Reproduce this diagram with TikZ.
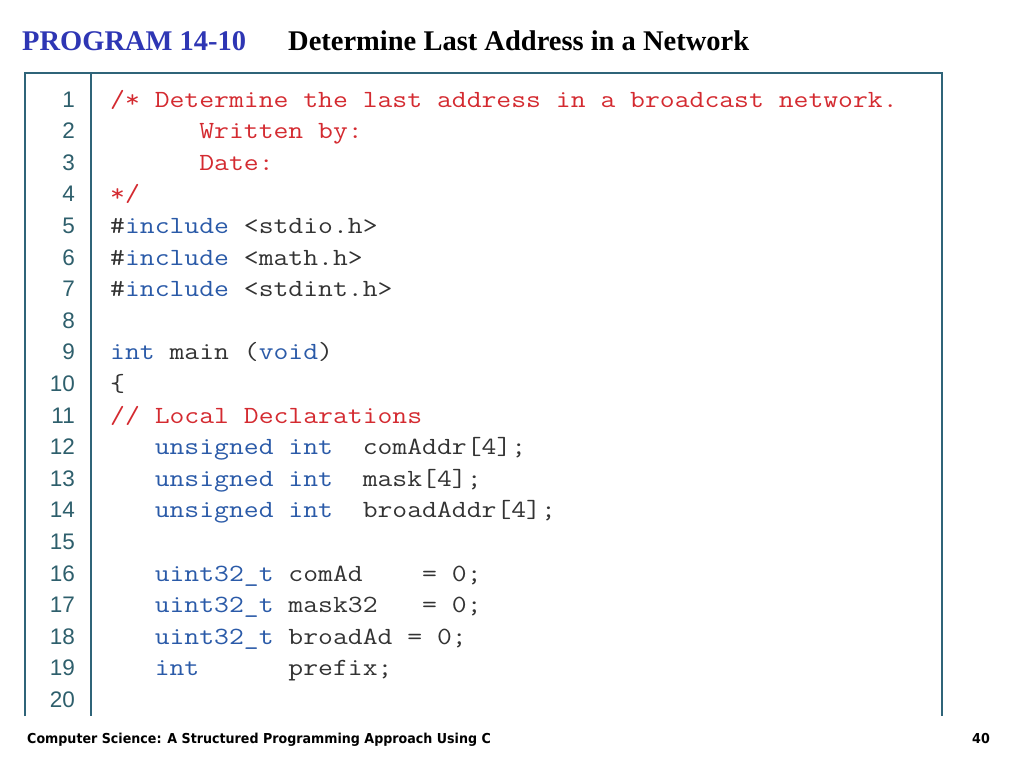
\documentclass[tikz,border=0pt]{standalone}
\usepackage{fontspec}
\setmainfont{Liberation Serif}
\newfontfamily\codefont[FakeStretch=1.168]{Latin Modern Mono}
\newfontfamily\numfont{Liberation Sans}
\newfontfamily\footfont[FakeStretch=0.925]{DejaVu Sans}
\definecolor{framec}{HTML}{2F6479}
\definecolor{numc}{HTML}{2E5F6C}
\definecolor{cmtc}{HTML}{D42A30}
\definecolor{kwc}{HTML}{2A5AA8}
\definecolor{txtc}{HTML}{333333}
\definecolor{titlec}{HTML}{2E36B4}
\tikzset{
  code/.style={anchor=base west,inner sep=0pt,font=\codefont\fontsize{24.7}{26}\selectfont,text=txtc},
  num/.style={anchor=base east,inner sep=0pt,font=\numfont\fontsize{22.5}{24}\selectfont,text=numc},
  frame/.style={draw=framec,line width=1.5pt},
  title/.style={anchor=base west,inner sep=0pt,font=\fontsize{28.5}{30}\selectfont\bfseries},
  foot/.style={anchor=base west,inner sep=0pt,font=\footfont\fontsize{13.7}{15}\selectfont\bfseries}
}
\newcommand\cm[1]{\textcolor{cmtc}{#1}}
\newcommand\kw[1]{\textcolor{kwc}{#1}}
\newcommand\cl[2]{\node[num] (n#1) at (75,{107+(#1-1)*31.6}) {#1};
  \node[code] (c#1) at (110,{107+(#1-1)*31.6}) {#2};}
\begin{document}
\begin{tikzpicture}[x=1pt,y=-1pt]
\useasboundingbox[fill=white] (0,0) rectangle (1024,768);
\node[title,text=titlec] (t1) at (22,50) {PROGRAM 14-10};
\node[title] (t2) at (288,50) {Determine Last Address in a Network};
\coordinate (tl) at (25,73);
\coordinate (tr) at (942,73);
\coordinate (bl) at (25,716);
\coordinate (br) at (942,716);
\coordinate (st) at (91,73);
\coordinate (sb) at (91,716);
\draw[frame] (bl) -- (tl) -- (tr) -- (br);
\draw[frame] (st) -- (sb);
\cl{1}{\cm{/* Determine the last address in a broadcast network.}}
\cl{2}{\cm{~~~~~~Written by:}}
\cl{3}{\cm{~~~~~~Date:}}
\cl{4}{\cm{*/}}
\cl{5}{\#\kw{include} <stdio.h>}
\cl{6}{\#\kw{include} <math.h>}
\cl{7}{\#\kw{include} <stdint.h>}
\cl{8}{}
\cl{9}{\kw{int} main (\kw{void})}
\cl{10}{\{}
\cl{11}{\cm{// Local Declarations}}
\cl{12}{~~~\kw{unsigned int}~~comAddr[4];}
\cl{13}{~~~\kw{unsigned int}~~mask[4];}
\cl{14}{~~~\kw{unsigned int}~~broadAddr[4];}
\cl{15}{}
\cl{16}{~~~\kw{uint32\_t} comAd~~~~= 0;}
\cl{17}{~~~\kw{uint32\_t} mask32~~~= 0;}
\cl{18}{~~~\kw{uint32\_t} broadAd = 0;}
\cl{19}{~~~\kw{int}~~~~~~prefix;}
\cl{20}{}
\node[foot] (f1) at (27,743) {Computer Science: A Structured Programming Approach Using C};
\node[foot,anchor=base east] (f2) at (990,743) {40};
\end{tikzpicture}
\end{document}
